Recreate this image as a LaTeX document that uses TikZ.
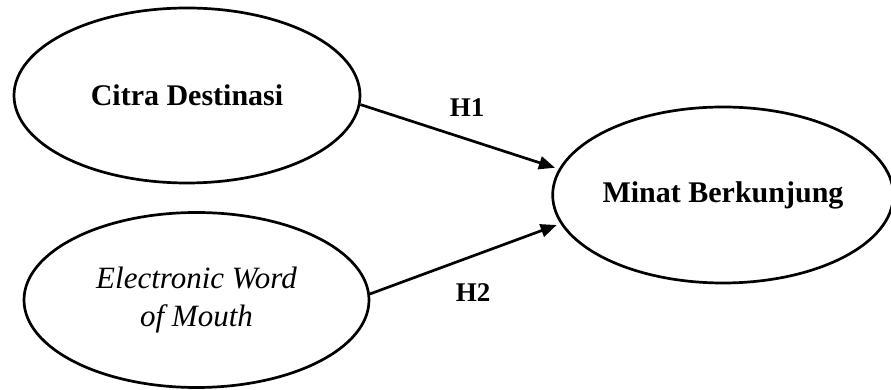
\documentclass[tikz,border=0pt]{standalone}
\usepackage{fontspec}
\setmainfont{Liberation Serif}
\usetikzlibrary{shapes.geometric,arrows.meta}

\begin{document}
\begin{tikzpicture}[x=1pt, y=1pt,
    var/.style={draw, ellipse, line width=2.7pt, inner sep=0pt, align=center, font=\bfseries\fontsize{30}{36}\selectfont},
    link/.style={line width=2.7pt, shorten >=4pt, -{Triangle[length=16pt,width=13pt]}},
    hyp/.style={font=\bfseries\fontsize{27}{32}\selectfont}]
                \useasboundingbox (0,0) rectangle (891,390);
                \node[var, minimum width=346pt, minimum height=175pt] (cd) at (187,294.5) {Citra Destinasi};
                \node[var, minimum width=345pt, minimum height=175pt, font=\itshape\fontsize{31}{38}\selectfont] (ewom) at (196.5,90) {Electronic Word\\of Mouth};
                \node[var, minimum width=333pt, minimum height=176pt] (mb) at (723,195) {Minat Berkunjung};
                \draw[link] (cd.-3) -- (mb.171);
                \draw[link] (ewom.2) -- (mb.190.6);
                \node[hyp] (h1) at (467,282) {H1};
                \node[hyp] (h2) at (473,97) {H2};
            \end{tikzpicture}
\end{document}
